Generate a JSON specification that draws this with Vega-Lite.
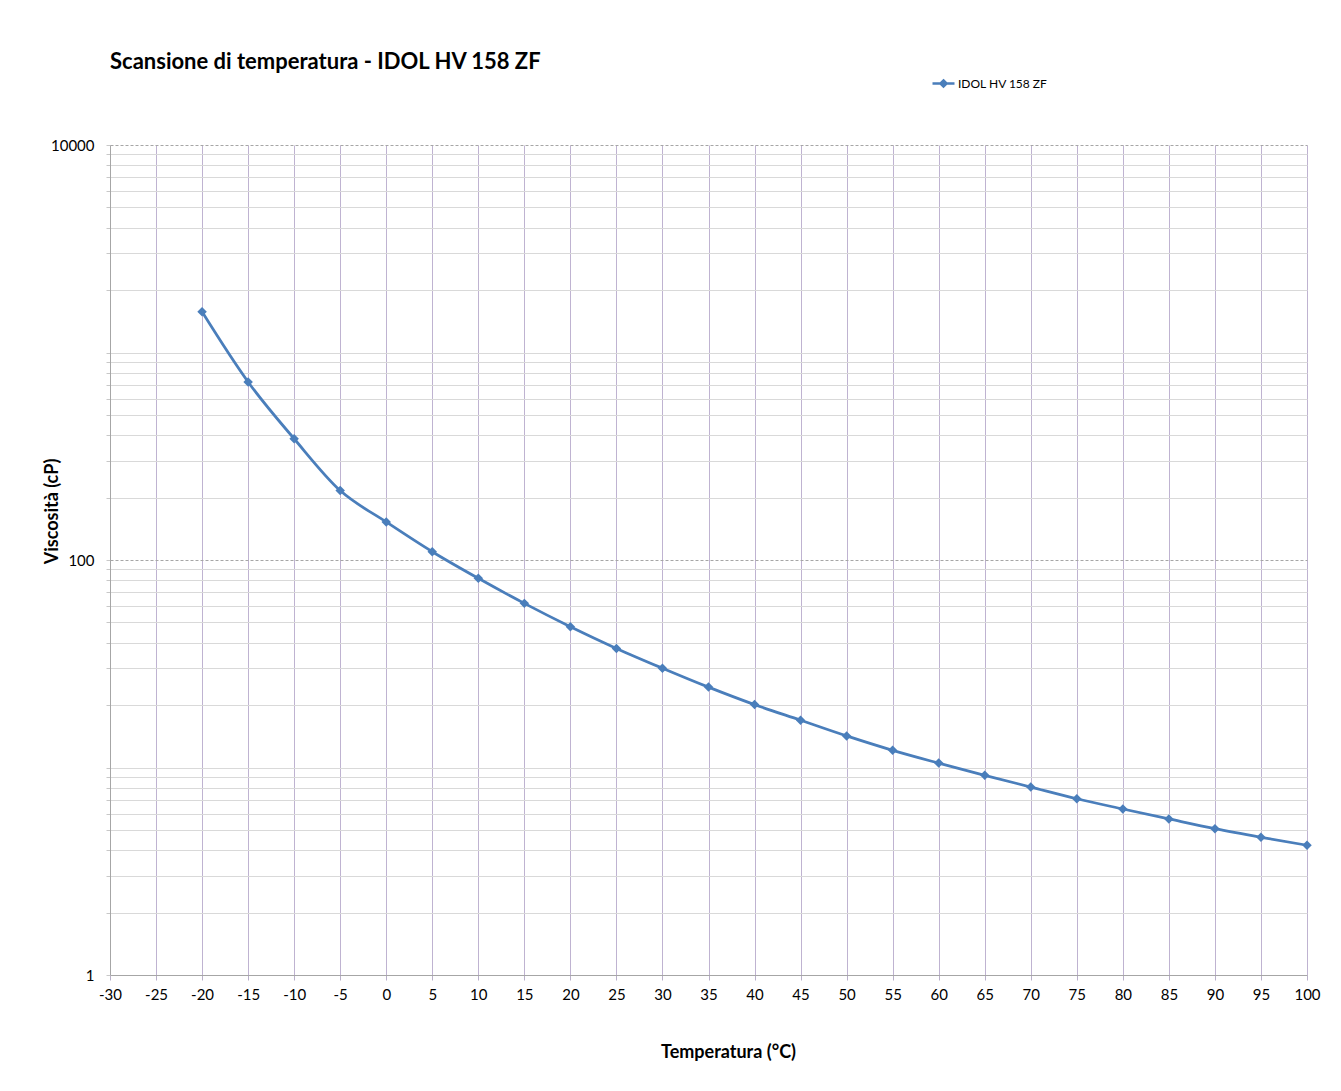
{
  "$schema": "https://vega.github.io/schema/vega-lite/v6.json",
  "width": 1197,
  "height": 830,
  "autosize": {"type": "none"},
  "padding": {"left": 110, "top": 145, "right": 34, "bottom": 116},
  "background": "white",
  "config": {"font": "Lato", "view": {"stroke": null}},
  "title": {
    "text": "Scansione di temperatura - IDOL HV 158 ZF",
    "anchor": "start",
    "frame": "group",
    "fontSize": 22,
    "fontWeight": "bold",
    "color": "#000000",
    "baseline": "alphabetic",
    "offset": -20
  },
  "data": {
    "values": [
      {"temperatura": -20, "viscosita": 1570},
      {"temperatura": -15, "viscosita": 721},
      {"temperatura": -10, "viscosita": 384},
      {"temperatura": -5, "viscosita": 216},
      {"temperatura": 0, "viscosita": 152.5},
      {"temperatura": 5, "viscosita": 109.6},
      {"temperatura": 10, "viscosita": 81.6},
      {"temperatura": 15, "viscosita": 61.8},
      {"temperatura": 20, "viscosita": 47.7},
      {"temperatura": 25, "viscosita": 37.5},
      {"temperatura": 30, "viscosita": 30.1},
      {"temperatura": 35, "viscosita": 24.4},
      {"temperatura": 40, "viscosita": 20.1},
      {"temperatura": 45, "viscosita": 16.9},
      {"temperatura": 50, "viscosita": 14.2},
      {"temperatura": 55, "viscosita": 12.1},
      {"temperatura": 60, "viscosita": 10.5},
      {"temperatura": 65, "viscosita": 9.17},
      {"temperatura": 70, "viscosita": 8.05},
      {"temperatura": 75, "viscosita": 7.07},
      {"temperatura": 80, "viscosita": 6.31},
      {"temperatura": 85, "viscosita": 5.65},
      {"temperatura": 90, "viscosita": 5.07},
      {"temperatura": 95, "viscosita": 4.61},
      {"temperatura": 100, "viscosita": 4.22}
    ]
  },
  "layer": [
    {
      "mark": {"type": "line", "color": "#4a7ebb", "strokeWidth": 2.75, "interpolate": "monotone"},
      "encoding": {
        "x": {
          "field": "temperatura",
          "type": "quantitative",
          "scale": {"domain": [-30, 100], "nice": false, "zero": false},
          "axis": {
            "values": [-30, -25, -20, -15, -10, -5, 0, 5, 10, 15, 20, 25, 30, 35, 40, 45, 50, 55, 60, 65, 70, 75, 80, 85, 90, 95, 100],
            "labelExpr": "'' + datum.value",
            "title": "Temperatura (°C)",
            "titleFontSize": 18,
            "titleFontWeight": "bold",
            "titleColor": "#000000",
            "titleX": 618,
            "titleY": 82,
            "titleBaseline": "alphabetic",
            "labelFontSize": 15,
            "labelColor": "#000000",
            "labelPadding": 7,
            "labelFlush": false,
            "labelOverlap": false,
            "tickSize": 5,
            "tickColor": "#b9b0c9",
            "domainColor": "#a6a6a6",
            "grid": true,
            "gridColor": "#bfb3d1",
            "gridWidth": 1
          }
        },
        "y": {
          "field": "viscosita",
          "type": "quantitative",
          "scale": {"type": "log", "domain": [1, 10000], "nice": false},
          "axis": {
            "values": [1, 2, 3, 4, 5, 6, 7, 8, 9, 10, 20, 30, 40, 50, 60, 70, 80, 90, 100, 200, 300, 400, 500, 600, 700, 800, 900, 1000, 2000, 3000, 4000, 5000, 6000, 7000, 8000, 9000, 10000],
            "labelExpr": "datum.value == 1 || datum.value == 100 || datum.value == 10000 ? '' + datum.value : ''",
            "title": "Viscosità (cP)",
            "titleFontSize": 18,
            "titleFontWeight": "bold",
            "titleColor": "#000000",
            "titleX": -53,
            "titleY": 366,
            "titleAngle": -90,
            "titleBaseline": "alphabetic",
            "titleAlign": "center",
            "labelFontSize": 15,
            "labelColor": "#000000",
            "labelPadding": 12,
            "labelFlush": false,
            "labelOverlap": false,
            "tickSize": 4,
            "tickColor": "#c8c8c8",
            "domainColor": "#a6a6a6",
            "grid": true,
            "gridColor": {"condition": {"test": "datum.value == 100 || datum.value == 10000", "value": "#a6a6a6"}, "value": "#d9d9d9"},
            "gridDash": {"condition": {"test": "datum.value == 100 || datum.value == 10000", "value": [3, 2]}, "value": []},
            "gridWidth": 1
          }
        }
      }
    },
    {
      "mark": {"type": "point", "shape": "diamond", "filled": true, "size": 90, "opacity": 1},
      "encoding": {
        "x": {"field": "temperatura", "type": "quantitative"},
        "y": {"field": "viscosita", "type": "quantitative"},
        "color": {
          "datum": "IDOL HV 158 ZF",
          "type": "nominal",
          "scale": {"range": ["#4a7ebb"]},
          "legend": {
            "title": null,
            "orient": "none",
            "legendX": 821,
            "legendY": -74,
            "symbolType": "M-1,0L1,0M0,-0.28L0.28,0L0,0.28L-0.28,0Z",
            "symbolSize": 484,
            "symbolStrokeColor": "#4a7ebb",
            "symbolStrokeWidth": 2.5,
            "symbolOpacity": 1,
            "labelFontSize": 12,
            "labelColor": "#000000",
            "labelOffset": 2
          }
        }
      }
    }
  ]
}
